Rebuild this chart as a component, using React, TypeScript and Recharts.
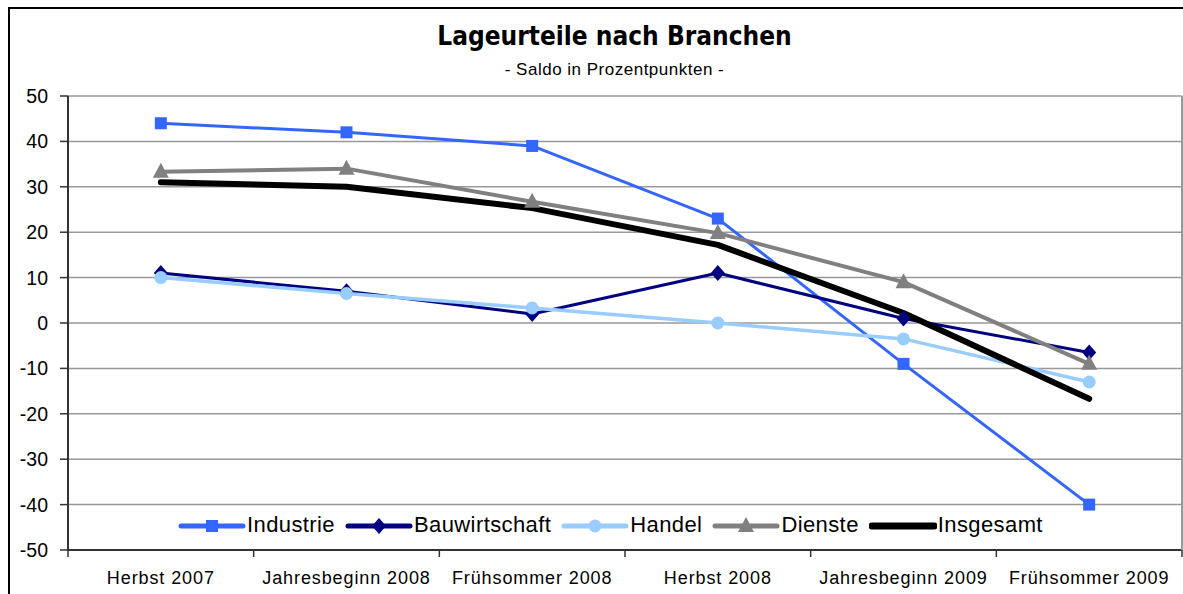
import { LineChart, Line, XAxis, YAxis, CartesianGrid } from 'recharts'

const categories = ['Herbst 2007', 'Jahresbeginn 2008', 'Frühsommer 2008', 'Herbst 2008', 'Jahresbeginn 2009', 'Frühsommer 2009']
const industrie = [44, 42, 39, 23, -9, -40]
const bauwirtschaft = [11, 7, 2, 11, 1, -6.5]
const handel = [10, 6.5, 3.3, 0, -3.5, -13]
const dienste = [33.3, 34, 26.7, 19.8, 9, -9]
const insgesamt = [31, 30, 25.3, 17.2, 2.2, -16.7]
const yTicks = [-50, -40, -30, -20, -10, 0, 10, 20, 30, 40, 50]

type Marker = 'square' | 'diamond' | 'circle' | 'triangle' | 'none'

const SERIES: { key: string; name: string; color: string; width: number; marker: Marker }[] = [
  { key: 'industrie', name: 'Industrie', color: '#3366FF', width: 3, marker: 'square' },
  { key: 'bauwirtschaft', name: 'Bauwirtschaft', color: '#000080', width: 3, marker: 'diamond' },
  { key: 'handel', name: 'Handel', color: '#99CCFF', width: 3.5, marker: 'circle' },
  { key: 'dienste', name: 'Dienste', color: '#808080', width: 4, marker: 'triangle' },
  { key: 'insgesamt', name: 'Insgesamt', color: '#000000', width: 6, marker: 'none' },
]

const data = categories.map((c, i) => ({
  name: c,
  industrie: industrie[i],
  bauwirtschaft: bauwirtschaft[i],
  handel: handel[i],
  dienste: dienste[i],
  insgesamt: insgesamt[i],
}))

const W = 1173
const H = 585
const M = { top: 87, right: 0, left: 0, bottom: 0 }
const Y_W = 58
const X_H = 44
const BAND = (W - Y_W - 1) / categories.length
const FONT = 'Liberation Sans, Arial, sans-serif'

function markerShape(kind: Marker, cx: number, cy: number, color: string, key?: any) {
  if (kind === 'square') return <rect key={key} x={cx - 6} y={cy - 6} width={12} height={12} fill={color} />
  if (kind === 'diamond') return <polygon key={key} points={`${cx},${cy - 8} ${cx + 7},${cy} ${cx},${cy + 8} ${cx - 7},${cy}`} fill={color} />
  if (kind === 'circle') return <circle key={key} cx={cx} cy={cy} r={6.5} fill={color} />
  if (kind === 'triangle') return <polygon key={key} points={`${cx},${cy - 9} ${cx + 8},${cy + 6} ${cx - 8},${cy + 6}`} fill={color} />
  return <g key={key} />
}

const XTick = ({ x, y, payload, index }: any) => (
  <g>
    <line x1={x - BAND / 2} x2={x - BAND / 2} y1={y} y2={y + 7} stroke="#333" strokeWidth={1.5} />
    {index === categories.length - 1 && (
      <line x1={x + BAND / 2} x2={x + BAND / 2} y1={y} y2={y + 7} stroke="#333" strokeWidth={1.5} />
    )}
    <text x={x} y={y + 29} textAnchor="middle" dominantBaseline="middle"
      style={{ fontFamily: FONT, fontSize: 18, letterSpacing: 0.9 }} fill="#000">
      {payload.value}
    </text>
  </g>
)

export default function App() {
  return (
    <div style={{ position: 'fixed', left: 0, top: 0, width: 1183, height: 594, overflow: 'hidden', background: '#fff' }}>
      <div style={{ position: 'absolute', left: 8, top: 7, width: 1200, height: 600, borderLeft: '2px solid #000', borderTop: '2px solid #000' }} />
      <div style={{ position: 'absolute', left: 28, top: 21, width: W, textAlign: 'center', fontFamily: 'DejaVu Sans Condensed, DejaVu Sans, sans-serif', fontWeight: 'bold', fontSize: 26, lineHeight: '30px' }}>
        Lageurteile nach Branchen
      </div>
      <div style={{ position: 'absolute', left: 28, top: 60, width: W, textAlign: 'center', fontFamily: FONT, fontSize: 17, lineHeight: '20px', letterSpacing: 0.5 }}>
        - Saldo in Prozentpunkten -
      </div>
      <div style={{ position: 'absolute', left: 10, top: 9 }}>
        <LineChart width={W} height={H} data={data} margin={M}>
          <CartesianGrid horizontal vertical={false} stroke="#999" strokeWidth={1.5} />
          <XAxis
            dataKey="name"
            scale="band"
            height={X_H}
            tick={<XTick />}
            tickLine={false}
            tickSize={0}
            tickMargin={0}
            interval={0}
            axisLine={{ stroke: '#333', strokeWidth: 2 }}
          />
          <YAxis
            domain={[-50, 50]}
            ticks={yTicks}
            width={Y_W}
            interval={0}
            tick={{ fill: '#000', fontSize: 19.5, fontFamily: FONT }}
            tickSize={8}
            tickMargin={12}
            tickLine={{ stroke: '#333', strokeWidth: 1.5 }}
            axisLine={{ stroke: '#333', strokeWidth: 2 }}
          />
          <YAxis yAxisId="r" orientation="right" width={1} tick={false} tickLine={false} axisLine={{ stroke: '#999', strokeWidth: 2 }} />
          {SERIES.map(s => (
            <Line
              key={s.key}
              dataKey={s.key}
              name={s.name}
              stroke={s.color}
              strokeWidth={s.width}
              strokeLinejoin="round"
              strokeLinecap="round"
              isAnimationActive={false}
              activeDot={false}
              dot={(p: any) => markerShape(s.marker, p.cx, p.cy, s.color, `${s.key}-${p.index}`)}
            />
          ))}
        </LineChart>
      </div>
      <div style={{ position: 'absolute', left: 178, top: 513, display: 'flex', alignItems: 'center', fontFamily: FONT, fontSize: 22, lineHeight: '24px', letterSpacing: 0.4 }}>
        {SERIES.map(s => (
          <div key={s.key} style={{ display: 'flex', alignItems: 'center', marginRight: 10 }}>
            <svg width={68} height={24}>
              <line x1={3} x2={65} y1={13} y2={13} stroke={s.color} strokeWidth={s.marker === 'none' ? 7 : 5} strokeLinecap="round" />
              {markerShape(s.marker, 34, 13, s.color)}
            </svg>
            <span style={{ marginLeft: 1 }}>{s.name}</span>
          </div>
        ))}
      </div>
    </div>
  )
}
